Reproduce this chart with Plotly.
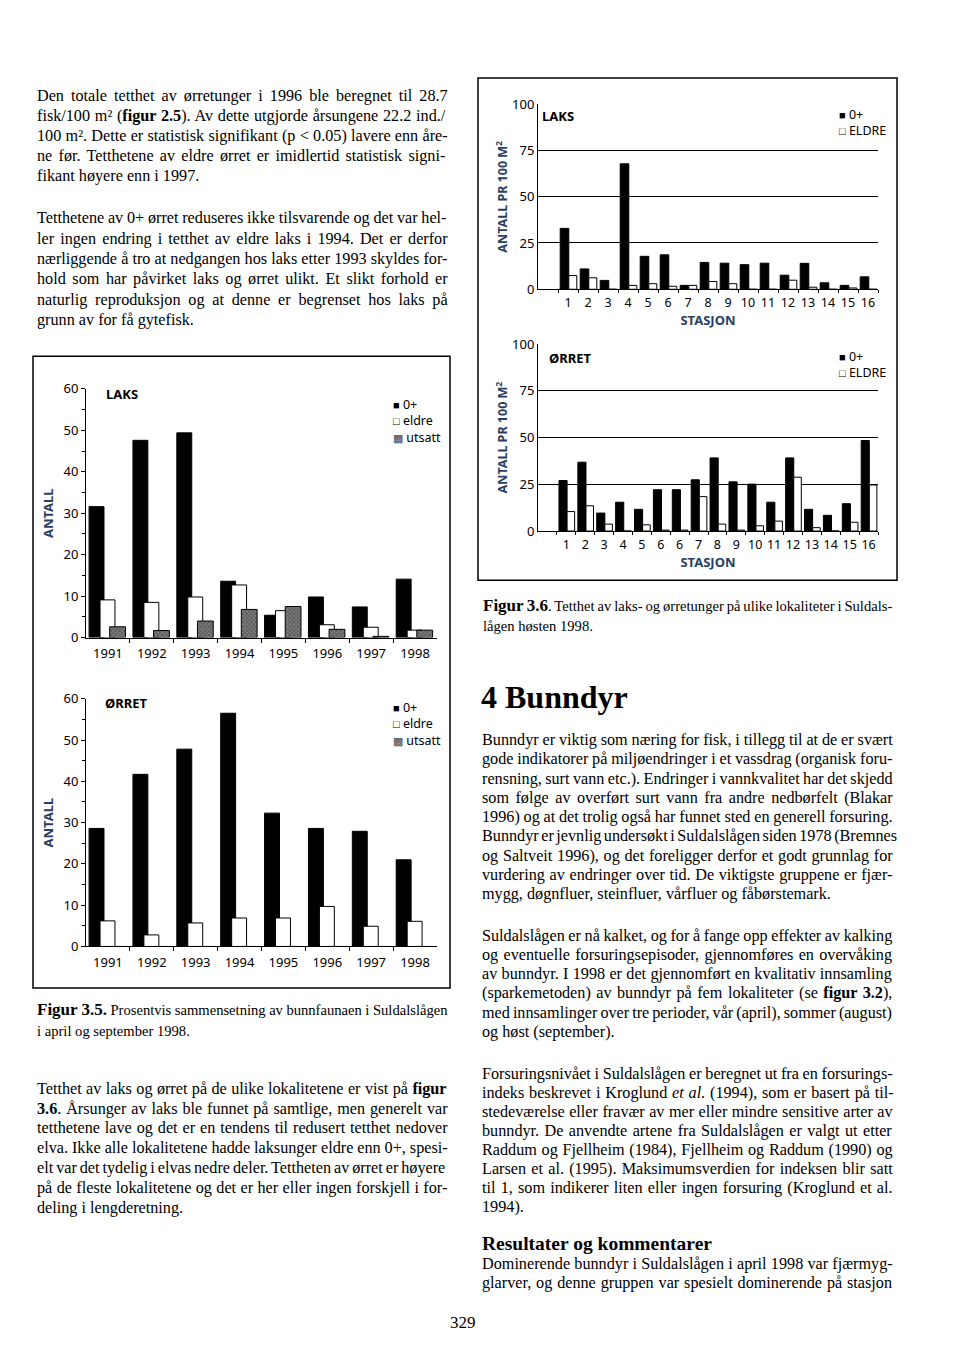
import re
import plotly.graph_objects as go

# ---------------- DATA ----------------
years = ["1991", "1992", "1993", "1994", "1995", "1996", "1997", "1998"]
laks_0pluss = [31.6, 47.6, 49.4, 13.6, 5.4, 9.8, 7.4, 14.1]
laks_eldre = [9.1, 8.5, 9.8, 12.7, 6.5, 3.1, 2.5, 1.8]
laks_utsatt = [2.6, 1.7, 4.0, 6.8, 7.5, 2.0, 0.3, 1.8]

orret_0pluss = [28.6, 41.7, 47.8, 56.5, 32.3, 28.6, 27.9, 21.0]
orret_eldre = [6.2, 2.8, 5.7, 6.9, 6.9, 9.7, 4.9, 6.1]
orret_utsatt = [0, 0, 0, 0, 0, 0, 0, 0]

laks_stasjon = ["1", "2", "3", "4", "5", "6", "7", "8", "9", "10", "11", "12", "13", "14", "15", "16"]
laks_st_0pluss = [32.9, 11.0, 4.8, 67.8, 17.8, 18.6, 2.1, 14.5, 14.1, 13.3, 14.1, 7.6, 14.0, 3.5, 2.1, 6.7]
laks_st_eldre = [7.4, 6.2, 0, 2.1, 3.0, 1.6, 2.1, 4.2, 3.0, 0, 0, 4.9, 1.1, 0, 0.7, 0]

orret_stasjon = ["1", "2", "3", "4", "5", "6", "6", "7", "8", "9", "10", "11", "12", "13", "14", "15", "16"]
orret_st_0pluss = [27.0, 36.8, 9.6, 15.4, 11.6, 22.1, 22.1, 27.4, 39.1, 26.3, 25.1, 15.4, 39.1, 11.6, 8.4, 14.6, 48.4]
orret_st_eldre = [10.4, 13.5, 3.7, 0, 3.3, 0.5, 0.5, 18.4, 3.7, 0.5, 2.8, 5.3, 28.8, 1.8, 0, 4.7, 24.6]

# ---------------- LAYOUT HELPERS ----------------
W, H = 960, 1366
SANS = "Noto Sans"
SERIF = "Liberation Serif"


def xp(px):
    return px / W


def yp(py):
    return 1 - py / H


fig = go.Figure()

BLACK = dict(color="black", line=dict(color="black", width=1))
WHITE = dict(color="white", line=dict(color="black", width=1))
GREY = dict(color="#7a7a7a", line=dict(color="black", width=1),
            pattern=dict(shape="x", fgcolor="#1e1e1e", size=3, solidity=0.4))

# ---- left charts (years) ----
for vals0, valsE, valsU, xa, ya in [
    (laks_0pluss, laks_eldre, laks_utsatt, "x", "y"),
    (orret_0pluss, orret_eldre, orret_utsatt, "x2", "y2"),
]:
    pos = list(range(len(years)))
    fig.add_trace(go.Bar(x=pos, y=vals0, width=0.34, offset=-0.43, marker=BLACK,
                         xaxis=xa, yaxis=ya, name="0+", showlegend=False))
    fig.add_trace(go.Bar(x=pos, y=valsE, width=0.34, offset=-0.18, marker=WHITE,
                         xaxis=xa, yaxis=ya, name="eldre", showlegend=False))
    fig.add_trace(go.Bar(x=pos, y=valsU, width=0.36, offset=0.04, marker=GREY,
                         xaxis=xa, yaxis=ya, name="utsatt", showlegend=False))

# ---- right charts (stations) ----
for labels, vals0, valsE, xa, ya in [
    (laks_stasjon, laks_st_0pluss, laks_st_eldre, "x3", "y3"),
    (orret_stasjon, orret_st_0pluss, orret_st_eldre, "x4", "y4"),
]:
    pos = [i + 1 for i in range(len(labels))]
    fig.add_trace(go.Bar(x=pos, y=vals0, width=0.43, offset=-0.39, marker=BLACK,
                         xaxis=xa, yaxis=ya, name="0+", showlegend=False))
    fig.add_trace(go.Bar(x=pos, y=valsE, width=0.40, offset=0.04, marker=WHITE,
                         xaxis=xa, yaxis=ya, name="ELDRE", showlegend=False))

tickfont = dict(family=SANS, size=13, color="black")


def left_x(dom_anchor):
    n = len(years)
    return dict(domain=[xp(86), xp(437)], range=[-0.5, n - 0.5], anchor=dom_anchor,
                tickmode="array", tickvals=list(range(n)), ticktext=years,
                ticks="outside", ticklen=4, tickcolor="rgba(0,0,0,0)",
                showline=True, linecolor="black", linewidth=1, showgrid=False, zeroline=False,
                tickfont=tickfont,
                minor=dict(tickmode="array", tickvals=[k + 0.5 for k in range(n - 1)],
                           ticks="outside", ticklen=4, tickcolor="black"))


def left_y(top, bottom, anchor):
    return dict(domain=[yp(bottom), yp(top)], range=[0, 60], anchor=anchor,
                tickmode="linear", tick0=0, dtick=10, ticks="outside", ticklen=4,
                tickcolor="black", showline=True, linecolor="black", linewidth=1,
                showgrid=False, zeroline=False, tickfont=tickfont,
                minor=dict(dtick=5, ticks="outside", ticklen=3, tickcolor="black"),
                title=dict(text="<b>ANTALL</b>", font=dict(family=SANS, size=13), standoff=6))


def right_x(labels, anchor):
    n = len(labels)
    return dict(domain=[xp(538), xp(878)], range=[-0.5, n + 0.5], anchor=anchor,
                tickmode="array", tickvals=[i + 1 for i in range(n)], ticktext=labels,
                ticks="outside", ticklen=2, tickcolor="rgba(0,0,0,0)",
                showline=True, linecolor="black", linewidth=1, showgrid=False, zeroline=False,
                tickfont=dict(family=SANS, size=12.5, color="black"),
                minor=dict(tickmode="array", tickvals=[k + 0.5 for k in range(n + 1)],
                           ticks="outside", ticklen=3, tickcolor="black"),
                title=dict(text="<b>STASJON</b>", font=dict(family=SANS, size=13), standoff=1))


def right_y(top, bottom, anchor):
    return dict(domain=[yp(bottom), yp(top)], range=[0, 100], anchor=anchor,
                tickmode="array", tickvals=[0, 25, 50, 75, 100], ticks="",
                showline=True, linecolor="black", linewidth=1,
                showgrid=True, gridcolor="black", gridwidth=1, zeroline=False,
                tickfont=dict(family=SANS, size=13, color="black"),
                title=dict(text="<b>ANTALL PR 100 M<sup>2</sup></b>",
                           font=dict(family=SANS, size=12.5), standoff=1))


fig.update_layout(
    width=W, height=H, margin=dict(l=0, r=0, t=0, b=0),
    paper_bgcolor="white", plot_bgcolor="rgba(0,0,0,0)",
    barmode="overlay", showlegend=False,
    xaxis=left_x("y"), yaxis=left_y(385, 637, "x"),
    xaxis2=left_x("y2"), yaxis2=left_y(699, 950, "x2"),
    xaxis3=right_x(laks_stasjon, "y3"), yaxis3=right_y(96.5, 284, "x3"),
    xaxis4=right_x(orret_stasjon, "y4"), yaxis4=right_y(339.5, 529, "x4"),
)

# ---------------- FRAMES ----------------
fig.add_shape(type="rect", xref="paper", yref="paper", x0=xp(33), x1=xp(450), y0=yp(992), y1=yp(352),
              line=dict(color="black", width=1.5))
fig.add_shape(type="rect", xref="paper", yref="paper", x0=xp(478), x1=xp(897), y0=yp(579), y1=yp(70),
              line=dict(color="black", width=1.5))

annotations = []


def note(text, x, y, size, family=SANS, xanchor="left", color="black", align="left"):
    annotations.append(dict(text=text, x=xp(x), y=yp(y), xref="paper", yref="paper",
                            xanchor=xanchor, yanchor="middle", showarrow=False, align=align,
                            font=dict(family=family, size=size, color=color)))


# chart labels
note("<b>LAKS</b>", 104, 390, 13)
note("<b>ØRRET</b>", 103, 703, 13)
note("<b>LAKS</b>", 540, 108, 13)
note("<b>ØRRET</b>", 547, 354, 13)

# legends (one text block each)
sq = "<span style='font-size:11px'>■</span>"
wsq = "<span style='font-size:11px'>□</span>"
psq = "<span style='font-size:11px;color:#444'>▩</span>"
note(sq + " 0+<br>" + wsq + " eldre<br>" + psq + " utsatt", 391, 418, 12.5)
note(sq + " 0+<br>" + wsq + " eldre<br>" + psq + " utsatt", 391, 725, 12.5)
note(sq + " 0+<br>" + wsq + " ELDRE", 837, 115, 12.5)
note(sq + " 0+<br>" + wsq + " ELDRE", 837, 360, 12.5)

# ---------------- BODY TEXT (justified like the printed page) ----------------
# Times / Liberation Serif advance widths (per 1000 em)
TIMES = {" ": 250, "(": 333, ")": 333, ".": 250, ",": 250, "-": 333, "/": 278, "<": 564, "+": 564,
         ":": 278, ";": 278, "²": 300, "ø": 500, "å": 444, "æ": 667, "Å": 722, "Ø": 722,
         "a": 444, "b": 500, "c": 444, "d": 500, "e": 444, "f": 333, "g": 500, "h": 500, "i": 278,
         "j": 278, "k": 500, "l": 278, "m": 778, "n": 500, "o": 500, "p": 500, "q": 500, "r": 333,
         "s": 389, "t": 278, "u": 500, "v": 500, "w": 722, "x": 500, "y": 500, "z": 444,
         "A": 722, "B": 667, "C": 667, "D": 722, "E": 611, "F": 556, "G": 722, "H": 722, "I": 333,
         "J": 389, "K": 722, "L": 611, "M": 889, "N": 722, "O": 722, "P": 556, "Q": 722, "R": 667,
         "S": 556, "T": 611, "U": 722, "V": 722, "W": 944, "X": 722, "Y": 722, "Z": 611}
TIMES_B = {"F": 611, "f": 333, "i": 278, "g": 500, "u": 556, "r": 444, " ": 250, ".": 250}


def text_width(markup, size):
    w, bold, cur = 0.0, False, size
    for tok in re.split(r"(<[^>]+>)", markup):
        if tok.startswith("<"):
            t = tok.lower()
            if t == "<b>":
                bold = True
            elif t == "</b>":
                bold = False
            elif t.startswith("<span"):
                m = re.search(r"font-size:([\d.]+)px", t)
                if m:
                    cur = float(m.group(1))
            elif t == "</span>":
                cur = size
            continue
        tok = tok.replace("&lt;", "<")
        for ch in tok:
            val = TIMES_B.get(ch, TIMES.get(ch, 500)) if bold else TIMES.get(ch, 500)
            w += val * cur / 1000.0
    return w


def n_spaces(markup):
    return re.sub(r"<[^>]+>", "", markup).count(" ")


BODY = 16.2
COLW = 411


def para(lines, x, y0, dy, size=BODY, justify_last=False):
    for i, t in enumerate(lines):
        txt = t
        if i < len(lines) - 1 or justify_last:
            ns = n_spaces(t)
            if ns:
                ws = (COLW - text_width(t, size)) / ns
                ws = max(-1.5, min(ws, 6))
                txt = "<span style='word-spacing:%.2fpx'>%s</span>" % (ws, t)
        note(txt, x, y0 + i * dy, size, family=SERIF)


para([
    "Den totale tetthet av ørretunger i 1996 ble beregnet til 28.7",
    "fisk/100 m² (<b>figur 2.5</b>). Av dette utgjorde årsungene 22.2 ind./",
    "100 m². Dette er statistisk signifikant (p &lt; 0.05) lavere enn åre-",
    "ne før. Tetthetene av eldre ørret er imidlertid statistisk signi-",
    "fikant høyere enn i 1997.",
], 35, 88, 20.3)

para([
    "Tetthetene av 0+ ørret reduseres ikke tilsvarende og det var hel-",
    "ler ingen endring i tetthet av eldre laks i 1994. Det er derfor",
    "nærliggende å tro at nedgangen hos laks etter 1993 skyldes for-",
    "hold som har påvirket laks og ørret ulikt. Et slikt forhold er",
    "naturlig reproduksjon og at denne er begrenset hos laks på",
    "grunn av for få gytefisk.",
], 35, 212, 20.6)

para([
    "<span style='font-size:17px'><b>Figur 3.5.</b></span> Prosentvis sammensetning av bunnfaunaen i Suldalslågen",
    "i april og september 1998.",
], 35, 1014, 21.5, size=14.6)

para([
    "Tetthet av laks og ørret på de ulike lokalitetene er vist på <b>figur</b>",
    "<b>3.6</b>. Årsunger av laks ble funnet på samtlige, men generelt var",
    "tetthetene lave og det er en tendens til redusert tetthet nedover",
    "elva. Ikke alle lokalitetene hadde laksunger eldre enn 0+, spesi-",
    "elt var det tydelig i elvas nedre deler. Tettheten av ørret er høyere",
    "på de fleste lokalitetene og det er her eller ingen forskjell i for-",
    "deling i lengderetning.",
], 35, 1094, 20.2)

para([
    "<span style='font-size:17px'><b>Figur 3.6</b></span>. Tetthet av laks- og ørretunger på ulike lokaliteter i Suldals-",
    "lågen høsten 1998.",
], 481, 604, 21, size=14.6)

note("<b>4 Bunndyr</b>", 479, 697, 32, family=SERIF)

para([
    "Bunndyr er viktig som næring for fisk, i tillegg til at de er svært",
    "gode indikatorer på miljøendringer i et vassdrag (organisk foru-",
    "rensning, surt vann etc.). Endringer i vannkvalitet har det skjedd",
    "som følge av overført surt vann fra andre nedbørfelt (Blakar",
    "1996) og at det trolig også har funnet sted en generell forsuring.",
    "Bunndyr er jevnlig undersøkt i Suldalslågen siden 1978 (Bremnes",
    "og Saltveit 1996), og det foreligger derfor et godt grunnlag for",
    "vurdering av endringer over tid. De viktigste gruppene er fjær-",
    "mygg, døgnfluer, steinfluer, vårfluer og fåbørstemark.",
], 480, 741, 19.5)

para([
    "Suldalslågen er nå kalket, og for å fange opp effekter av kalking",
    "og eventuelle forsuringsepisoder, gjennomføres en overvåking",
    "av bunndyr. I 1998 er det gjennomført en kvalitativ innsamling",
    "(sparkemetoden) av bunndyr på fem lokaliteter (se <b>figur 3.2</b>),",
    "med innsamlinger over tre perioder, vår (april), sommer (august)",
    "og høst (september).",
], 480, 939, 19.5)

para([
    "Forsuringsnivået i Suldalslågen er beregnet ut fra en forsurings-",
    "indeks beskrevet i Kroglund <i>et al.</i> (1994), som er basert på til-",
    "stedeværelse eller fravær av mer eller mindre sensitive arter av",
    "bunndyr. De anvendte artene fra Suldalslågen er valgt ut etter",
    "Raddum og Fjellheim (1984), Fjellheim og Raddum (1990) og",
    "Larsen et al. (1995). Maksimumsverdien for indeksen blir satt",
    "til 1, som indikerer liten eller ingen forsuring (Kroglund et al.",
    "1994).",
], 480, 1079, 19.3)

note("<b>Resultater og kommentarer</b>", 480, 1251, 19.5, family=SERIF)
para([
    "Dominerende bunndyr i Suldalslågen i april 1998 var fjærmyg-",
    "glarver, og denne gruppen var spesielt dominerende på stasjon",
], 480, 1272, 19.5, justify_last=True)

note("329", 463, 1331, 17, family=SERIF, xanchor="center")

fig.update_layout(annotations=annotations)
fig.write_html("out.html")
